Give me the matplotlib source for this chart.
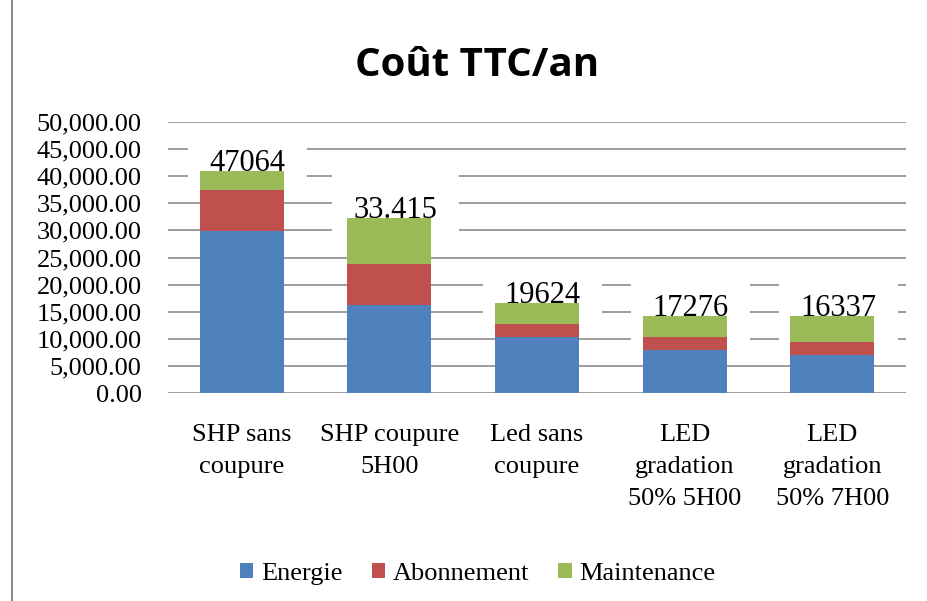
import matplotlib.pyplot as plt
from matplotlib.lines import Line2D
import numpy as np

categories = ["SHP sans\ncoupure", "SHP coupure\n5H00", "Led sans\ncoupure",
              "LED\ngradation\n50% 5H00", "LED\ngradation\n50% 7H00"]
energie = [29900, 16300, 10300, 8000, 7050]
abonnement = [7500, 7500, 2500, 2400, 2400]
maintenance = [3500, 8500, 3900, 3800, 4750]
labels = ["47064", "33.415", "19624", "17276", "16337"]

serif = "Liberation Serif"

fig = plt.figure(figsize=(9.28, 6.01), dpi=100)
ax = fig.add_axes([168/928, 1-393.3/601, (906-168)/928, (393.3-121.7)/601])

x = np.arange(len(categories))
w = 0.57
e = np.array(energie)
a = np.array(abonnement)
m = np.array(maintenance)
b1 = ax.bar(x, e, w, color="#4F81BD", zorder=3, label="Energie")
b2 = ax.bar(x, a, w, bottom=e, color="#C0504D", zorder=3, label="Abonnement")
b3 = ax.bar(x, m, w, bottom=e+a, color="#9BBB59", zorder=3, label="Maintenance")

tot = e + a + m
for i in range(len(x)):
    ax.text(x[i] + 0.04, tot[i], labels[i], ha="center", va="baseline",
            fontsize=22, family=serif, zorder=2,
            bbox=dict(boxstyle="square,pad=0.7", fc="white", ec="none"))

ax.set_xlim(-0.5, 4.5)
ax.set_ylim(0, 50000)
ax.set_yticks(np.arange(0, 50001, 5000))
ax.set_yticklabels(["{:,.2f}".format(v) for v in np.arange(0, 50001, 5000)],
                   family=serif, fontsize=19)
ax.set_xticks(x)
ax.set_xticklabels(categories, family=serif, fontsize=19, linespacing=1.6)
ax.tick_params(axis="y", length=0, pad=19)
ax.tick_params(axis="x", length=0, pad=22)
ax.grid(axis="y", color="#8c8c8c", linewidth=1.2, zorder=0)
ax.set_axisbelow(True)
for s in ax.spines.values():
    s.set_visible(False)

fig.text(477/928, 1-66/601, "Coût TTC/an", ha="center", va="center",
         fontsize=29, fontweight="bold", family="Open Sans")

leg = fig.legend(handles=[b1, b2, b3], loc="center", bbox_to_anchor=(478/928, 1-574/601),
                 ncol=3, frameon=False, prop={"family": serif, "size": 19},
                 handlelength=0.5, handleheight=0.5, handletextpad=0.3,
                 columnspacing=1.1)

fig.add_artist(Line2D([12/928, 12/928], [0, 1], color="#8c8c8c", linewidth=1.5))

fig.savefig("out.png", dpi=100)
